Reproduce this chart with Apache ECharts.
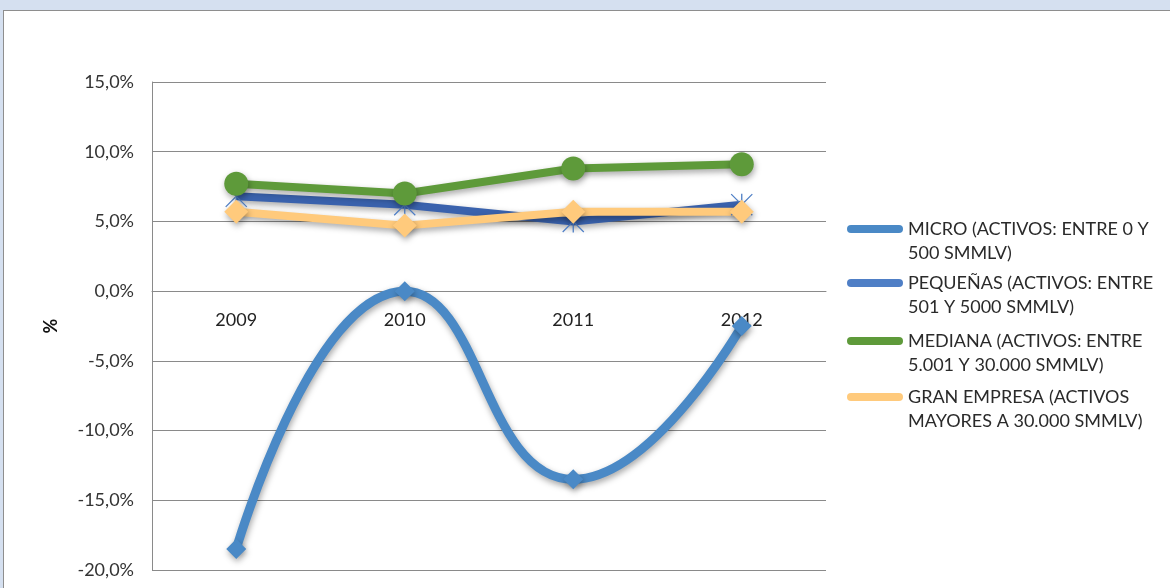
<!DOCTYPE html>
<html><head><meta charset="utf-8">
<script src="https://cdn.jsdelivr.net/npm/echarts@6/dist/echarts.min.js"></script>
<style>
html,body{margin:0;padding:0;width:1170px;height:588px;overflow:hidden;background:#d5e0f0;}
#frame{position:absolute;left:3px;top:10px;width:1167px;height:578px;border-top:1px solid #8e8e8e;border-left:1px solid #8e8e8e;background:#fff;}
#chart{position:absolute;left:0;top:0;width:1166px;height:577px;}
</style></head>
<body><div id="frame"><div id="chart"></div></div>
<script>
const categories = ['2009','2010','2011','2012'];
const seriesNames = [
  'MICRO (ACTIVOS: ENTRE 0 Y 500 SMMLV)',
  'PEQUEÑAS (ACTIVOS: ENTRE 501 Y 5000 SMMLV)',
  'MEDIANA (ACTIVOS: ENTRE 5.001 Y 30.000 SMMLV)',
  'GRAN EMPRESA (ACTIVOS MAYORES A 30.000 SMMLV)'
];
const legendLines = [
  'MICRO (ACTIVOS: ENTRE 0 Y\n500 SMMLV)',
  'PEQUEÑAS (ACTIVOS: ENTRE\n501 Y 5000 SMMLV)',
  'MEDIANA (ACTIVOS: ENTRE\n5.001 Y 30.000 SMMLV)',
  'GRAN EMPRESA (ACTIVOS\nMAYORES A 30.000 SMMLV)'
];
const micro = [-18.5, 0.0, -13.5, -2.5];
const pequenas = [6.8, 6.2, 5.0, 6.2];
const mediana = [7.7, 7.0, 8.8, 9.1];
const gran = [5.7, 4.7, 5.7, 5.7];
const yMin = -20, yMax = 15, yStep = 5;

const colors = ['#4a89c6', '#3a62ad', '#5e9a3a', '#ffca7c'];
const font = 'Lato, "Open Sans", sans-serif';
const shadow = {shadowColor:'rgba(0,0,0,0.35)', shadowBlur:6, shadowOffsetX:1, shadowOffsetY:3};
const star = 'path://M9.4,0 h1.2 v20 h-1.2z M0,0.8 L0.8,0 L20,19.2 L19.2,20 Z M20,0.8 L19.2,0 L0,19.2 L0.8,20 Z';
const capsule = 'path://M4,0 H52 A4,4 0 0 1 52,8 H4 A4,4 0 0 1 4,0 Z';

const CH = 577, gridTop = 71, gridBottom = 18;
const gridH = CH - gridTop - gridBottom;
// place category axis at the zero line of the value axis
const zeroOffset = -gridH * (0 - yMin) / (yMax - yMin);

const legendTops = [229, 283, 341, 397];
const legends = seriesNames.map((n, i) => ({
  data: [{name: n, icon: capsule}],
  orient: 'vertical', left: 843, top: legendTops[i] - 11 - 36,
  padding: 0, itemWidth: 56, itemHeight: 8, itemGap: 0,
  formatter: () => ' \n' + legendLines[i],
  textStyle: {fontFamily: font, fontSize: 18, color: '#2a2a2a', lineHeight: 24}
}));

const chart = echarts.init(document.getElementById('chart'), null, {renderer:'canvas'});
chart.setOption({
  animation: false,
  color: colors,
  grid: {left: 148, top: gridTop, right: 344, bottom: gridBottom, containLabel: false, outerBoundsMode: 'none'},
  legend: legends,
  xAxis: {
    type: 'category', data: categories, boundaryGap: true, position: 'bottom',
    offset: zeroOffset,
    axisLine: {show: true, onZero: false, lineStyle: {color: '#8a8a8a', width: 1}},
    axisTick: {show: false},
    axisLabel: {fontFamily: font, fontSize: 18, color: '#222', margin: 20}
  },
  yAxis: {
    type: 'value', min: yMin, max: yMax, interval: yStep,
    name: '%', nameLocation: 'middle', nameGap: 92, nameRotate: 90,
    nameTextStyle: {fontFamily: font, fontSize: 18, fontWeight: 'bold', color: '#111'},
    axisLine: {show: true, lineStyle: {color: '#8a8a8a', width: 1}},
    axisTick: {show: false},
    splitLine: {lineStyle: {color: '#8a8a8a', width: 1}},
    axisLabel: {fontFamily: font, fontSize: 18, color: '#333', margin: 18,
      formatter: v => v.toFixed(1).replace('.', ',') + '%'}
  },
  series: [
    {name: seriesNames[0], type: 'line', data: micro, smooth: 0.5,
     symbol: 'diamond', symbolSize: 20,
     lineStyle: Object.assign({width: 9, color: colors[0]}, shadow),
     itemStyle: Object.assign({color: colors[0]}, shadow)},
    {name: seriesNames[1], type: 'line', data: pequenas,
     symbol: star, symbolSize: 22,
     lineStyle: Object.assign({width: 8, color: colors[1]}, shadow),
     itemStyle: {color: '#4f7fc6'}},
    {name: seriesNames[2], type: 'line', data: mediana,
     symbol: 'circle', symbolSize: 24,
     lineStyle: Object.assign({width: 8, color: colors[2]}, shadow),
     itemStyle: Object.assign({color: colors[2]}, shadow)},
    {name: seriesNames[3], type: 'line', data: gran,
     symbol: 'diamond', symbolSize: 24,
     lineStyle: Object.assign({width: 8, color: colors[3]}, shadow),
     itemStyle: Object.assign({color: colors[3]}, shadow)}
  ]
});
</script></body></html>
